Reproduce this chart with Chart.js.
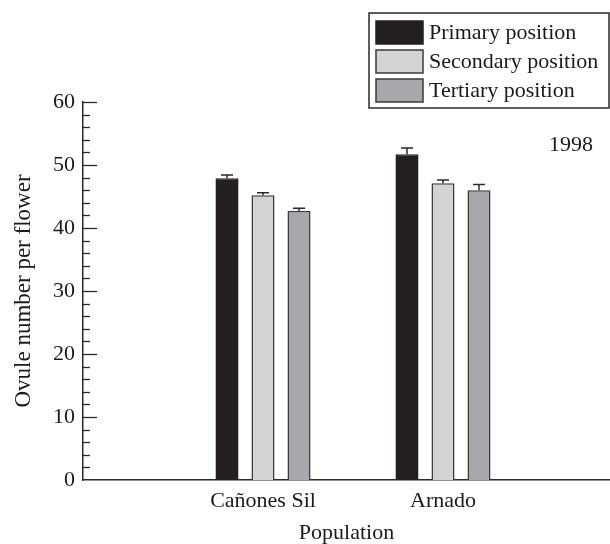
<!DOCTYPE html>
<html>
<head>
<meta charset="utf-8">
<script src="https://cdn.jsdelivr.net/npm/chart.js@4.4.0/dist/chart.umd.min.js"></script>
<style>
  body { margin: 0; background: #fff; }
  #wrap { width: 610px; height: 544px; }
</style>
</head>
<body>
<div id="wrap"><canvas id="ovuleChart" width="610" height="544"></canvas></div>
<script>
const populations = ["Cañones Sil", "Arnado"];
const seriesNames = ["Primary position", "Secondary position", "Tertiary position"];
const primary = [47.9, 51.7];
const primaryErr = [0.5, 1.0];
const secondary = [45.2, 47.1];
const secondaryErr = [0.4, 0.5];
const tertiary = [42.7, 46.0];
const tertiaryErr = [0.45, 0.9];
const yearLabel = "1998";

const serif = "'Liberation Serif', 'Times New Roman', serif";
const ink = "#2a2a2a";

function toPoints(values) {
    return values.map((v, i) => ({ x: i + 1, y: v }));
}

// whiskers (upper half only), drawn from the bar elements
const errorBars = {
    id: "errorBars",
    afterDatasetsDraw(chart) {
        const ctx = chart.ctx;
        const yScale = chart.scales.y;
        ctx.save();
        ctx.strokeStyle = ink;
        ctx.lineWidth = 1.5;
        chart.data.datasets.forEach((ds, di) => {
            const meta = chart.getDatasetMeta(di);
            meta.data.forEach((bar, i) => {
                const top = yScale.getPixelForValue(ds.data[i].y + ds.errors[i]);
                ctx.beginPath();
                ctx.moveTo(bar.x, bar.y);
                ctx.lineTo(bar.x, top);
                ctx.moveTo(bar.x - 6, top);
                ctx.lineTo(bar.x + 6, top);
                ctx.stroke();
            });
        });
        ctx.restore();
    }
};

// inward ticks on the y axis, minor every 2
const yTickMarks = {
    id: "yTickMarks",
    afterDraw(chart) {
        const ctx = chart.ctx;
        const yScale = chart.scales.y;
        const left = chart.chartArea.left;
        ctx.save();
        ctx.strokeStyle = ink;
        ctx.lineWidth = 1.3;
        for (let v = 2; v <= yScale.max; v += 2) {
            const y = Math.round(yScale.getPixelForValue(v)) + 0.5;
            const len = v % 10 === 0 ? 14 : 7;
            ctx.beginPath();
            ctx.moveTo(left, y);
            ctx.lineTo(left + len, y);
            ctx.stroke();
        }
        ctx.restore();
    }
};

const boxLegend = {
    id: "boxLegend",
    afterDraw(chart) {
        const ctx = chart.ctx;
        ctx.save();
        ctx.strokeStyle = ink;
        ctx.lineWidth = 1.5;
        ctx.strokeRect(369, 13, 240, 95);
        ctx.font = "22px " + serif;
        ctx.textBaseline = "middle";
        ctx.textAlign = "left";
        chart.data.datasets.forEach((ds, i) => {
            const y = 21 + i * 29;
            ctx.fillStyle = ds.backgroundColor;
            ctx.fillRect(376, y, 47, 23);
            ctx.strokeStyle = ds.borderColor;
            ctx.strokeRect(376, y, 47, 23);
            ctx.fillStyle = "#1a1a1a";
            ctx.fillText(ds.label, 429, y + 12);
        });
        ctx.textAlign = "right";
        ctx.fillText(yearLabel, 593, 145);
        ctx.restore();
    }
};

const ctx = document.getElementById("ovuleChart").getContext("2d");

const data = {
    datasets: [
        {
            label: seriesNames[0],
            data: toPoints(primary),
            errors: primaryErr,
            backgroundColor: "#231f20",
            borderColor: "#231f20",
        },
        {
            label: seriesNames[1],
            data: toPoints(secondary),
            errors: secondaryErr,
            backgroundColor: "#d2d3d5",
            borderColor: "#3a3a3a",
        },
        {
            label: seriesNames[2],
            data: toPoints(tertiary),
            errors: tertiaryErr,
            backgroundColor: "#a6a8ab",
            borderColor: "#3a3a3a",
        },
    ],
};

const options = {
    responsive: false,
    animation: false,
    layout: { padding: { top: 102, left: 0, right: 0, bottom: 0 } },
    datasets: {
        bar: {
            borderWidth: 1.5,
            categoryPercentage: 0.6,
            barPercentage: 0.64,
        },
    },
    plugins: {
        legend: { display: false },
        tooltip: { enabled: false },
    },
    scales: {
        x: {
            type: "linear",
            offset: false,
            min: 0,
            max: 527 / 180,
            afterBuildTicks: (scale) => {
                scale.ticks = populations.map((p, i) => ({ value: i + 1 }));
            },
            afterFit: (scale) => { scale.height = 64; },
            grid: { display: false, drawTicks: false },
            border: { display: true, color: ink, width: 1.5 },
            ticks: {
                padding: 8,
                color: "#1a1a1a",
                font: { family: serif, size: 22 },
                callback: (value) => populations[value - 1] || "",
            },
            title: {
                display: true,
                text: "Population",
                color: "#1a1a1a",
                font: { family: serif, size: 22, lineHeight: 0.7 },
                padding: { top: 0, bottom: 3 },
            },
        },
        y: {
            min: 0,
            max: 60,
            afterFit: (scale) => { scale.width = 83; },
            grid: { display: false, drawTicks: false },
            border: { display: true, color: ink, width: 1.5 },
            ticks: {
                stepSize: 10,
                padding: 8,
                color: "#1a1a1a",
                font: { family: serif, size: 22 },
            },
            title: {
                display: true,
                text: "Ovule number per flower",
                color: "#1a1a1a",
                font: { family: serif, size: 23 },
                padding: { top: 10, bottom: 0 },
            },
        },
    },
};

const ovuleChart = new Chart(ctx, {
    type: "bar",
    data: data,
    options: options,
    plugins: [errorBars, yTickMarks, boxLegend],
});
</script>
</body>
</html>
